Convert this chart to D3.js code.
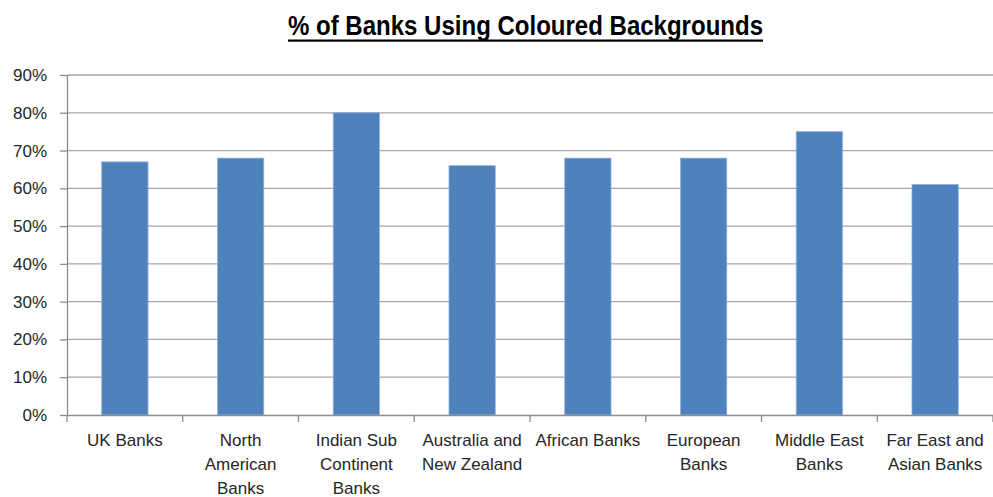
<!DOCTYPE html>
<html>
<head>
<meta charset="utf-8">
<script src="https://cdn.jsdelivr.net/npm/d3@7"></script>
<style>
  body { margin: 0; background: #fff; }
  svg { display: block; }
</style>
</head>
<body>
<div id="chart"></div>
<script>
const categories = [
  "UK Banks", "North American Banks", "Indian Sub Continent Banks", "Australia and New Zealand",
  "African Banks", "European Banks", "Middle East Banks", "Far East and Asian Banks"
];
// label line breaks as they appear under each bar
const labelLines = [
  ["UK Banks"], ["North", "American", "Banks"], ["Indian Sub", "Continent", "Banks"],
  ["Australia and", "New Zealand"], ["African Banks"], ["European", "Banks"],
  ["Middle East", "Banks"], ["Far East and", "Asian Banks"]
];
const values = [0.67, 0.68, 0.80, 0.66, 0.68, 0.68, 0.75, 0.61];
const yTicks = [0, 0.1, 0.2, 0.3, 0.4, 0.5, 0.6, 0.7, 0.8, 0.9];

let margin = { top: 75, right: 0, bottom: 82, left: 67 },
  width = 993 - margin.left - margin.right,
  height = 497 - margin.top - margin.bottom;

let svg = d3.select("#chart")
  .append("svg")
  .attr("width", 993)
  .attr("height", 497);

// title (condensed look: squeeze a bold sans into the original width)
let title = svg.append("text")
  .attr("x", 288)
  .attr("y", 35)
  .attr("textLength", 475)
  .attr("lengthAdjust", "spacingAndGlyphs")
  .style("font-family", "'Liberation Sans Narrow', 'Arial Narrow', 'Liberation Sans', Arial, sans-serif")
  .style("font-weight", "bold")
  .style("font-size", "28px")
  .style("fill", "#000")
  .text("% of Banks Using Coloured Backgrounds");
svg.append("rect")
  .attr("x", 288).attr("y", 39.5)
  .attr("width", 475).attr("height", 2.2)
  .attr("fill", "#000");

let g = svg.append("g")
  .attr("transform", "translate(" + margin.left + "," + margin.top + ")");

let x = d3.scaleBand().domain(categories).range([0, width]).paddingInner(0.6).paddingOuter(0.3);
let xCat = d3.scaleBand().domain(categories).range([0, width]);
let y = d3.scaleLinear().domain([0, 0.9]).range([height, 0]);

// gridlines
g.append("g")
  .selectAll("line")
  .data(yTicks.slice(1))
  .enter()
  .append("line")
  .attr("x1", 0).attr("x2", width)
  .attr("y1", d => y(d)).attr("y2", d => y(d))
  .attr("stroke", "#a6a6a6")
  .attr("stroke-width", 1.3);

// bars
g.selectAll(".bar")
  .data(values)
  .enter()
  .append("rect")
  .attr("class", "bar")
  .attr("x", (d, i) => x(categories[i]))
  .attr("width", x.bandwidth())
  .attr("y", d => y(d))
  .attr("height", d => height - y(d))
  .attr("fill", "#4f81bd")
  .attr("stroke", "#8fb2df")
  .attr("stroke-width", 0.8);

// y axis
let yAxis = g.append("g")
  .call(d3.axisLeft(y).tickValues(yTicks).tickFormat(d3.format(".0%")).tickSize(7).tickSizeOuter(0));
yAxis.select(".domain").attr("stroke", "#8c8c8c").attr("stroke-width", 1.3);
yAxis.selectAll(".tick line").attr("stroke", "#8c8c8c").attr("stroke-width", 1.3);
yAxis.selectAll(".tick text")
  .attr("x", -20)
  .style("font-family", "'Liberation Sans', Arial, sans-serif")
  .style("font-size", "17px")
  .style("fill", "#262626");

// x axis
let xAxis = g.append("g")
  .attr("transform", "translate(0," + height + ")")
  .call(d3.axisBottom(xCat).tickSize(0).tickFormat(""));
xAxis.select(".domain").attr("stroke", "#8c8c8c").attr("stroke-width", 1.3);
xAxis.selectAll(".cattick")
  .data(categories.concat([null]))
  .enter()
  .append("line")
  .attr("class", "cattick")
  .attr("x1", (d, i) => i * xCat.step()).attr("x2", (d, i) => i * xCat.step())
  .attr("y1", 0).attr("y2", 7)
  .attr("stroke", "#8c8c8c").attr("stroke-width", 1.3);

let labels = g.append("g")
  .selectAll("text")
  .data(categories)
  .enter()
  .append("text")
  .attr("text-anchor", "middle")
  .attr("transform", d => "translate(" + (xCat(d) + xCat.bandwidth() / 2) + "," + (height + 31) + ")")
  .style("font-family", "'Liberation Sans', Arial, sans-serif")
  .style("font-size", "17px")
  .style("fill", "#262626");
labels.each(function (d, i) {
  d3.select(this).selectAll("tspan")
    .data(labelLines[i])
    .enter()
    .append("tspan")
    .attr("x", 0)
    .attr("dy", (t, j) => j === 0 ? 0 : 24)
    .text(t => t);
});
</script>
</body>
</html>
